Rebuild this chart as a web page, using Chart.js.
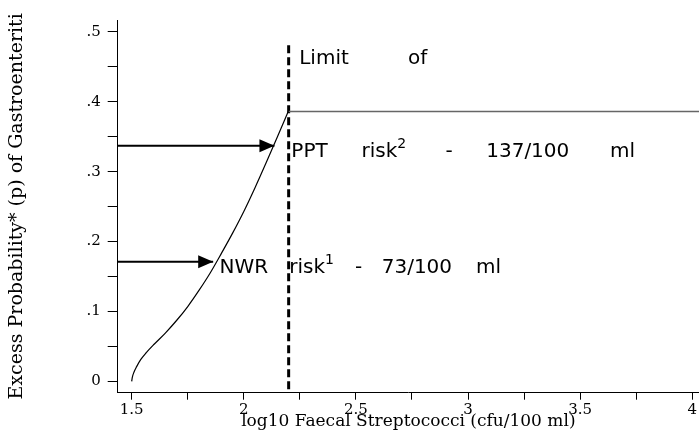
<!DOCTYPE html>
<html>
<head>
<meta charset="utf-8">
<script src="https://cdn.jsdelivr.net/npm/chart.js@4/dist/chart.umd.min.js"></script>
<style>
  html, body { margin: 0; padding: 0; background: #fff; }
  #wrap { width: 699px; height: 434px; }
</style>
</head>
<body>
<div id="wrap"><canvas id="chart" width="699" height="434"></canvas></div>
<script>
// Dose-response curve: log10 faecal streptococci vs excess probability of gastroenteritis
const curveLog = [1.5, 1.503, 1.51, 1.522, 1.54, 1.565, 1.6, 1.65, 1.7, 1.75, 1.8, 1.85, 1.9, 1.95, 2.0, 2.05, 2.1, 2.15, 2.198];
const curveP   = [0, 0.006, 0.013, 0.021, 0.031, 0.041, 0.053, 0.069, 0.087, 0.107, 0.130, 0.155, 0.183, 0.212, 0.243, 0.277, 0.313, 0.350, 0.386];

// Limit and the two reference risks
const limitLog = 2.2;
const limitP = 0.386;
const pptCount = 137;   // cfu/100 ml
const pptP = 0.337;
const nwrCount = 73;    // cfu/100 ml
const nwrP = 0.171;

// Axis ticks (empty label = minor tick)
const xTicks = [1.5, 1.75, 2, 2.25, 2.5, 2.75, 3, 3.25, 3.5, 3.75, 4];
const xTickLabels = ['1.5', '', '2', '', '2.5', '', '3', '', '3.5', '', '4'];
const yTicks = [0, 0.05, 0.1, 0.15, 0.2, 0.25, 0.3, 0.35, 0.4, 0.45, 0.5];
const yTickLabels = ['0', '', '.1', '', '.2', '', '.3', '', '.4', '', '.5'];

const xTitle = 'log10 Faecal Streptococci (cfu/100 ml)';
const yTitle = 'Excess Probability* (p) of Gastroenteriti';

// Axis ranges
const X_MIN = 1.4376, X_MAX = 4.03;
const Y_MIN = -0.0163, Y_MAX = 0.517;
const DASH_TOP = 0.481;

// Text placed in data coordinates (left edge, baseline)
const notes = [
  { text: 'Limit',   x: 2.247,  y: 0.4547 },
  { text: 'of',      x: 2.732,  y: 0.4547 },
  { text: 'PPT',     x: 2.212,  y: 0.3213 },
  { text: 'risk',    x: 2.525,  y: 0.3213, sup: '2' },
  { text: '-',       x: 2.90,   y: 0.3213 },
  { text: '137/100', x: 3.081,  y: 0.3213 },
  { text: 'ml',      x: 3.633,  y: 0.3213 },
  { text: 'NWR',     x: 1.892,  y: 0.1545 },
  { text: 'risk',    x: 2.2025, y: 0.1545, sup: '1' },
  { text: '-',       x: 2.496,  y: 0.1545 },
  { text: '73/100',  x: 2.615,  y: 0.1545 },
  { text: 'ml',      x: 3.036,  y: 0.1545 }
];

const SERIF = '"DejaVu Serif", serif';
const SANS = '"DejaVu Sans", Verdana, sans-serif';

const notesPlugin = {
  id: 'notes',
  afterDatasetsDraw(chart) {
    const { ctx, scales: { x, y } } = chart;
    ctx.save();
    ctx.fillStyle = '#000';
    ctx.textAlign = 'left';
    ctx.textBaseline = 'alphabetic';
    notes.forEach(n => {
      const px = x.getPixelForValue(n.x);
      const py = y.getPixelForValue(n.y);
      ctx.font = '20px ' + SANS;
      ctx.fillText(n.text, px, py);
      if (n.sup) {
        const w = ctx.measureText(n.text).width;
        ctx.font = '14px ' + SANS;
        ctx.fillText(n.sup, px + w, py - 9);
      }
    });
    ctx.restore();
  }
};

const arrowPlugin = {
  id: 'arrowHeads',
  afterDatasetsDraw(chart) {
    const { ctx } = chart;
    chart.data.datasets.forEach((ds, i) => {
      if (!ds.arrowHead) return;
      const pts = chart.getDatasetMeta(i).data;
      const tip = pts[pts.length - 1];
      ctx.save();
      ctx.fillStyle = '#000';
      ctx.beginPath();
      ctx.moveTo(tip.x, tip.y);
      ctx.lineTo(tip.x - 15, tip.y - 6.5);
      ctx.lineTo(tip.x - 15, tip.y + 6.5);
      ctx.closePath();
      ctx.fill();
      ctx.restore();
    });
  }
};

const curve = curveLog.map((v, i) => ({ x: v, y: curveP[i] }));

new Chart(document.getElementById('chart'), {
  type: 'scatter',
  data: {
    datasets: [
      { data: curve, showLine: true, borderColor: '#000', borderWidth: 1.2,
        pointRadius: 0, cubicInterpolationMode: 'monotone', fill: false },
      { data: [{ x: limitLog, y: limitP }, { x: X_MAX, y: limitP }], showLine: true,
        borderColor: '#666', borderWidth: 1.4, pointRadius: 0 },
      { data: [{ x: limitLog, y: DASH_TOP }, { x: limitLog, y: Y_MIN }], showLine: true,
        borderColor: '#000', borderWidth: 3, borderDash: [8, 4], pointRadius: 0 },
      { data: [{ x: X_MIN, y: pptP }, { x: Math.log10(pptCount), y: pptP }], showLine: true,
        borderColor: '#000', borderWidth: 2, pointRadius: 0, arrowHead: true },
      { data: [{ x: X_MIN, y: nwrP }, { x: Math.log10(nwrCount), y: nwrP }], showLine: true,
        borderColor: '#000', borderWidth: 2, pointRadius: 0, arrowHead: true }
    ]
  },
  options: {
    responsive: false,
    animation: false,
    events: [],
    layout: { padding: { top: 20, right: 0, bottom: 0, left: 0 } },
    plugins: { legend: { display: false }, tooltip: { enabled: false } },
    scales: {
      x: {
        type: 'linear', min: X_MIN, max: X_MAX,
        afterBuildTicks: s => { s.ticks = xTicks.map(v => ({ value: v })); },
        afterFit: s => { s.height = 41.3; },
        ticks: {
          callback: (v, i) => xTickLabels[i],
          font: { family: SERIF, size: 15 }, color: '#000',
          padding: 1, maxRotation: 0, autoSkip: false
        },
        grid: { drawOnChartArea: false, drawTicks: true, tickLength: 7, color: '#000' },
        border: { display: true, color: '#000', width: 1 },
        title: { display: true, text: xTitle, color: '#000',
          font: { family: SERIF, size: 17 }, padding: { top: 0, bottom: 2 } }
      },
      y: {
        type: 'linear', min: Y_MIN, max: Y_MAX,
        afterBuildTicks: s => { s.ticks = yTicks.map(v => ({ value: v })); },
        afterFit: s => { s.width = 117.7; },
        ticks: {
          callback: (v, i) => yTickLabels[i],
          font: { family: SERIF, size: 15 }, color: '#000',
          padding: 7, autoSkip: false
        },
        grid: { drawOnChartArea: false, drawTicks: true, tickLength: 10, color: '#000' },
        border: { display: true, color: '#000', width: 1 },
        title: { display: true, text: yTitle, color: '#000',
          font: { family: SERIF, size: 19 }, padding: { top: 6, bottom: 0 } }
      }
    }
  },
  plugins: [arrowPlugin, notesPlugin]
});
</script>
</body>
</html>
